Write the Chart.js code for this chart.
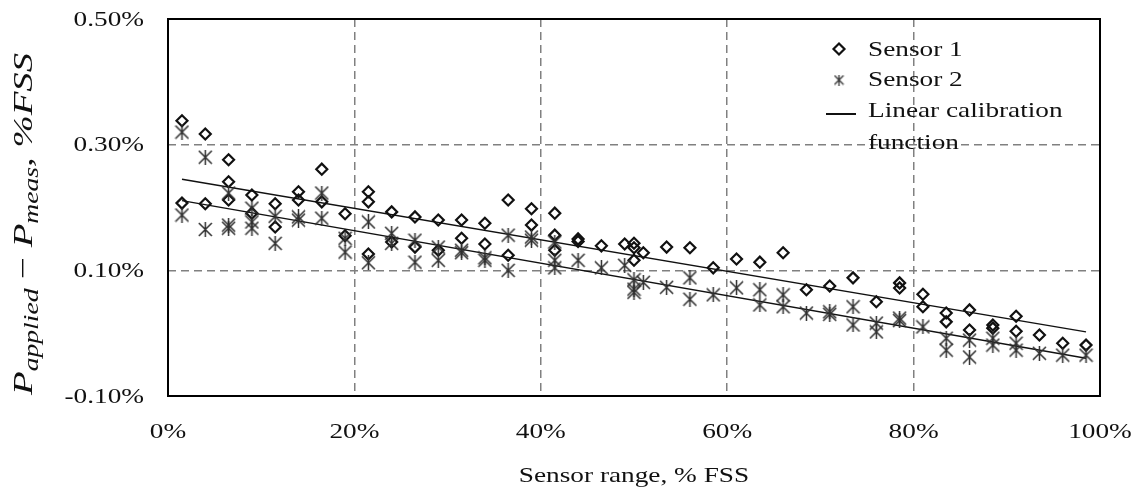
<!DOCTYPE html>
<html lang="en">
<head>
  <meta charset="UTF-8" />
  <title>Calibration Residuals</title>
  <script src="https://cdn.jsdelivr.net/npm/chart.js"></script>
  <style>
    html, body { margin: 0; padding: 0; background: #fff; }
  </style>
</head>
<body>
  <canvas id="residualChart" width="1137" height="487"></canvas>

  <script>
    // sensor range (% FSS) and residual P_applied - P_meas (% FSS)
    const sensor1X = [1.5, 1.5, 4, 4, 6.5, 6.5, 6.5, 9, 9, 11.5, 11.5, 14, 14, 16.5, 16.5,
      19, 19, 21.5, 21.5, 21.5, 24, 24, 26.5, 26.5, 29, 29, 31.5, 31.5, 34, 34,
      36.5, 36.5, 39, 39, 41.5, 41.5, 41.5, 44, 44, 46.5, 49, 50, 50, 50, 51,
      53.5, 56, 58.5, 61, 63.5, 66, 68.5, 71, 73.5, 76, 78.5, 78.5, 81, 81,
      83.5, 83.5, 86, 86, 88.5, 88.5, 91, 91, 93.5, 96, 98.5];
    const sensor1Y = [0.338, 0.207, 0.317, 0.206, 0.276, 0.241, 0.212, 0.220, 0.191, 0.206, 0.169, 0.225, 0.212, 0.261, 0.209,
      0.190, 0.155, 0.225, 0.209, 0.126, 0.193, 0.145, 0.185, 0.137, 0.180, 0.132, 0.180, 0.151, 0.175, 0.142,
      0.212, 0.124, 0.198, 0.172, 0.191, 0.156, 0.132, 0.150, 0.146, 0.139, 0.142, 0.143, 0.136, 0.116, 0.128,
      0.137, 0.136, 0.104, 0.118, 0.113, 0.128, 0.069, 0.075, 0.088, 0.050, 0.080, 0.072, 0.062, 0.042,
      0.032, 0.018, 0.037, 0.005, 0.013, 0.008, 0.027, 0.003, -0.003, -0.016, -0.019];

    const sensor2X = [1.5, 1.5, 4, 4, 6.5, 6.5, 6.5, 9, 9, 9, 11.5, 11.5, 14, 14, 16.5, 16.5,
      19, 19, 21.5, 21.5, 24, 24, 26.5, 26.5, 29, 29, 31.5, 31.5, 34, 34,
      36.5, 36.5, 39, 39, 41.5, 41.5, 41.5, 44, 46.5, 49, 50, 50, 50, 51,
      53.5, 56, 56, 58.5, 61, 63.5, 63.5, 66, 66, 68.5, 71, 71, 73.5, 73.5,
      76, 76, 78.5, 78.5, 81, 83.5, 83.5, 86, 86, 88.5, 88.5, 91, 91, 93.5, 96, 98.5];
    const sensor2Y = [0.320, 0.188, 0.280, 0.165, 0.223, 0.172, 0.167, 0.199, 0.177, 0.167, 0.186, 0.143, 0.185, 0.180, 0.223, 0.183,
      0.151, 0.129, 0.177, 0.112, 0.159, 0.143, 0.148, 0.113, 0.137, 0.116, 0.132, 0.128, 0.120, 0.116,
      0.156, 0.100, 0.153, 0.148, 0.145, 0.116, 0.104, 0.116, 0.104, 0.108, 0.085, 0.070, 0.065, 0.081,
      0.073, 0.088, 0.054, 0.061, 0.072, 0.069, 0.045, 0.061, 0.042, 0.032, 0.034, 0.030, 0.042, 0.013,
      0.016, 0.002, 0.024, 0.020, 0.010, -0.008, -0.027, -0.011, -0.038, -0.008, -0.019, -0.016, -0.027, -0.032, -0.035, -0.035];

    // linear calibration function, one line per sensor
    const fitX = [1.5, 98.5];
    const fitUpperY = [0.245, 0.002];
    const fitLowerY = [0.211, -0.040];

    const xTickValues = [0, 20, 40, 60, 80, 100];
    const yTickValues = [-0.1, 0.1, 0.3, 0.5];

    const serif = '"Liberation Serif", "Times New Roman", serif';
    const SX = 1.24; // the labels are set a little wide

    function pairs(xs, ys) {
      return xs.map((x, i) => ({ x: x, y: ys[i] }));
    }

    // six-armed asterisk marker (X plus a vertical stroke)
    function makeStar(size, color, lw) {
      const c = document.createElement('canvas');
      c.width = size; c.height = size;
      const g = c.getContext('2d');
      g.strokeStyle = color;
      g.lineWidth = lw;
      const m = size / 2, e = size / 2 - 1;
      g.beginPath();
      g.moveTo(m - e, m - e); g.lineTo(m + e, m + e);
      g.moveTo(m + e, m - e); g.lineTo(m - e, m + e);
      g.moveTo(m, 0); g.lineTo(m, size);
      g.stroke();
      return c;
    }
    const starMark = makeStar(15, '#2e2e2e', 1.5);
    const starLegend = makeStar(11, '#333', 1.3);

    function wideText(ctx, text, x, y, align) {
      const w = ctx.measureText(text).width * SX;
      let left = x;
      if (align === 'center') left = x - w / 2;
      else if (align === 'right') left = x - w;
      ctx.save();
      ctx.translate(left, y);
      ctx.scale(SX, 1);
      ctx.textAlign = 'left';
      ctx.fillText(text, 0, 0);
      ctx.restore();
    }

    function drawYTitle(ctx) {
      const parts = [
        ['P', 'italic 28px ' + serif, 0],
        ['applied', 'italic 20px ' + serif, 6],
        [' \u2212 ', '28px ' + serif, 0],
        ['P', 'italic 28px ' + serif, 0],
        ['meas', 'italic 20px ' + serif, 6],
        [', %FSS', 'italic 28px ' + serif, 0]
      ];
      let total = 0;
      parts.forEach(p => { ctx.font = p[1]; p[3] = ctx.measureText(p[0]).width; total += p[3]; });
      const k = 342 / total;
      ctx.save();
      ctx.translate(32, 395);
      ctx.rotate(-Math.PI / 2);
      ctx.scale(k, 1);
      ctx.textAlign = 'left';
      ctx.textBaseline = 'alphabetic';
      let pos = 0;
      parts.forEach(p => { ctx.font = p[1]; ctx.fillText(p[0], pos, p[2]); pos += p[3]; });
      ctx.restore();
    }

    const textPlugin = {
      id: 'textPlugin',
      beforeDraw(chart) {
        const ctx = chart.ctx;
        ctx.save();
        ctx.fillStyle = '#fff';
        ctx.fillRect(0, 0, chart.width, chart.height);
        ctx.restore();
      },
      afterDraw(chart) {
        const ctx = chart.ctx;
        const a = chart.chartArea;
        const xs = chart.scales.x, ys = chart.scales.y;
        const labelFont = '22px ' + serif;

        // frame
        ctx.save();
        ctx.strokeStyle = '#000';
        ctx.lineWidth = 2;
        ctx.strokeRect(a.left, a.top, a.right - a.left, a.bottom - a.top);

        ctx.fillStyle = '#111';
        ctx.font = labelFont;

        // y tick labels
        ctx.textBaseline = 'middle';
        ys.ticks.forEach(t => {
          wideText(ctx, t.value.toFixed(2) + '%', a.left - 24, ys.getPixelForValue(t.value) + 1, 'right');
        });

        // x tick labels
        ctx.textBaseline = 'alphabetic';
        xs.ticks.forEach(t => {
          wideText(ctx, t.value + '%', xs.getPixelForValue(t.value), a.bottom + 42, 'center');
        });

        // x title
        wideText(ctx, 'Sensor range, % FSS', (a.left + a.right) / 2, a.bottom + 86, 'center');

        // y title
        drawYTitle(ctx);

        // legend
        const lx = 839;
        ctx.strokeStyle = '#111';
        ctx.lineWidth = 2.2;
        ctx.beginPath();
        ctx.moveTo(lx, 49 - 5.5); ctx.lineTo(lx + 5.5, 49);
        ctx.lineTo(lx, 49 + 5.5); ctx.lineTo(lx - 5.5, 49);
        ctx.closePath();
        ctx.stroke();
        ctx.drawImage(starLegend, lx - 5.5, 80 - 5.5);
        ctx.lineWidth = 2;
        ctx.beginPath();
        ctx.moveTo(826, 114); ctx.lineTo(856, 114);
        ctx.stroke();

        ctx.font = labelFont;
        ctx.textBaseline = 'middle';
        wideText(ctx, 'Sensor 1', 868, 50, 'left');
        wideText(ctx, 'Sensor 2', 868, 80, 'left');
        wideText(ctx, 'Linear calibration', 868, 111, 'left');
        wideText(ctx, 'function', 868, 143, 'left');
        ctx.restore();
      }
    };

    const gridOpts = { color: '#808080', lineWidth: 1.5, drawTicks: false };

    new Chart(document.getElementById('residualChart'), {
      type: 'scatter',
      data: {
        datasets: [
          {
            label: 'Sensor 2',
            data: pairs(sensor2X, sensor2Y),
            pointStyle: starMark,
            pointRadius: 7
          },
          {
            label: 'Sensor 1',
            data: pairs(sensor1X, sensor1Y),
            pointStyle: 'rectRot',
            pointRadius: 5.5,
            borderWidth: 2.2,
            pointBorderColor: '#111',
            pointBackgroundColor: 'rgba(0,0,0,0)'
          },
          {
            label: 'Linear calibration function',
            data: pairs(fitX, fitUpperY),
            showLine: true,
            pointRadius: 0,
            borderColor: '#111',
            borderWidth: 1.4
          },
          {
            label: 'Linear calibration function',
            data: pairs(fitX, fitLowerY),
            showLine: true,
            pointRadius: 0,
            borderColor: '#111',
            borderWidth: 1.4
          }
        ]
      },
      options: {
        responsive: false,
        animation: false,
        events: [],
        layout: { padding: { left: 168, right: 37, top: 19, bottom: 91 } },
        plugins: {
          legend: { display: false },
          tooltip: { enabled: false }
        },
        scales: {
          x: {
            type: 'linear',
            min: 0,
            max: 100,
            afterBuildTicks: s => { s.ticks = xTickValues.map(v => ({ value: v })); },
            ticks: { display: false },
            grid: gridOpts,
            border: { display: false, dash: [8, 5] }
          },
          y: {
            type: 'linear',
            min: -0.1,
            max: 0.5,
            afterBuildTicks: s => { s.ticks = yTickValues.map(v => ({ value: v })); },
            ticks: { display: false },
            grid: gridOpts,
            border: { display: false, dash: [8, 5] }
          }
        }
      },
      plugins: [textPlugin]
    });
  </script>
</body>
</html>
